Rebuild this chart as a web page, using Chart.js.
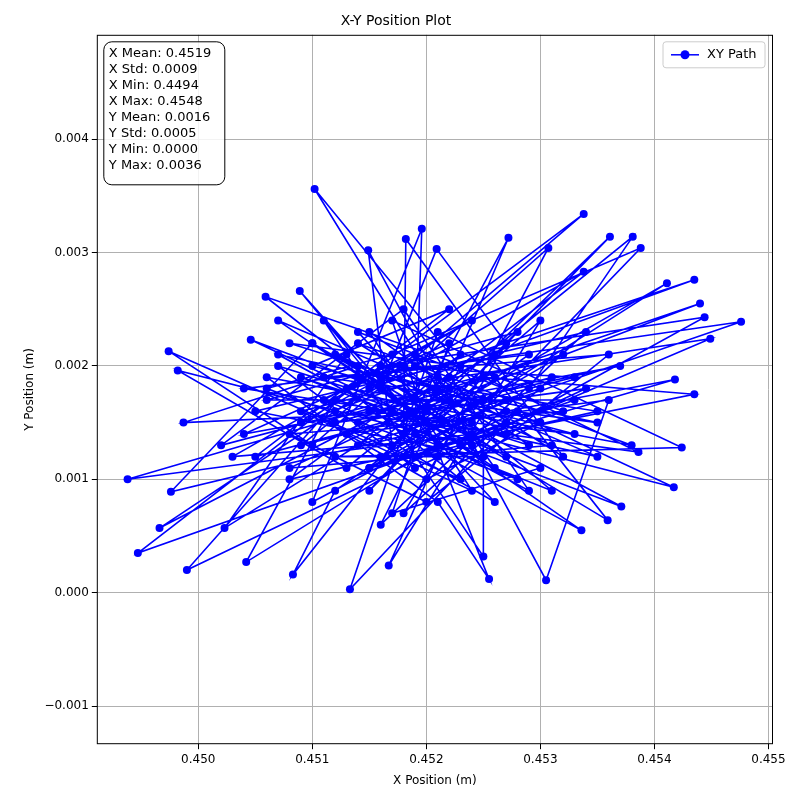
<!DOCTYPE html>
<html>
<head>
<meta charset="utf-8">
<script src="https://cdn.jsdelivr.net/npm/chart.js"></script>
<style>
  body { margin: 0; background: #fff; }
  #wrap { width: 800px; height: 800px; }
</style>
</head>
<body>
<div id="wrap"><canvas id="grafico" width="800" height="800"></canvas></div>
<script>
// 🔧 Datos de la trayectoria
const xValues = [
  0.4520,0.4512,0.4531,0.4508,0.4525,0.4515,0.4528,0.4506,0.4533,0.4519,
  0.4511,0.4526,0.4514,0.4537,0.4504,0.4522,0.4517,0.4530,0.4509,0.4524,
  0.44938,0.4521,0.45102,0.4527,0.44947,0.4516,0.45338,0.4510,0.44974,0.4523,
  0.4513,0.4535,0.4507,0.4529,0.4518,0.4502,0.4532,0.4515,0.4527,0.4510,
  0.45196,0.4519,0.45476,0.4514,0.44990,0.4528,0.45133,0.4521,0.45424,0.4512,
  0.4525,0.4505,0.4534,0.4516,0.4523,0.4508,0.4530,0.4520,0.4513,0.4536,
  0.45305,0.4522,0.45149,0.4517,0.45361,0.4526,0.44966,0.4515,0.45435,0.4509,
  0.4518,0.4531,0.4511,0.4524,0.4503,0.4527,0.4514,0.4538,0.4506,0.4521,
  0.45255,0.4520,0.45059,0.4529,0.45381,0.4513,0.44982,0.4524,0.45444,0.4516,
  0.4533,0.4509,0.4519,0.4526,0.4507,0.4535,0.4517,0.4504,0.4529,0.4512,
  0.45083,0.4522,0.45272,0.4518,0.45336,0.4510,0.44976,0.4527,0.45418,0.4515,
  0.4523,0.4514,0.4532,0.4508,0.4520,0.4536,0.4511,0.4525,0.4516,0.4530,
  0.45167,0.4521,0.45307,0.4519,0.45417,0.4512,0.45042,0.4524,0.45388,0.4517,
  0.4506,0.4528,0.4515,0.4533,0.4510,0.4522,0.4505,0.4531,0.4518,0.4527,
  0.45209,0.4516,0.45449,0.4523,0.45371,0.4514,0.44987,0.4520,0.45359,0.4526,
  0.4512,0.4534,0.4519,0.4507,0.4529,0.4515,0.4524,0.4509,0.4521,0.4532,
  0.45182,0.4518,0.45411,0.4525,0.45250,0.4513,0.45023,0.4522,0.45440,0.4519,
  0.4510,0.4527,0.4516,0.4535,0.4508,0.4523,0.4514,0.4530,0.4517,0.4520,
  0.45046,0.4516,0.45089,0.4521,0.45435,0.4525,0.45386,0.4512,0.45338,0.4519
];
const yValues = [
  0.0016,0.0021,0.0013,0.0011,0.0019,0.0009,0.0023,0.0017,0.0017,0.0012,
  0.0024,0.0008,0.0015,0.0020,0.0014,0.0022,0.0007,0.0011,0.0019,0.0014,
  0.0010,0.0018,0.00356,0.0015,0.00035,0.0020,0.00334,0.0013,0.00213,0.0010,
  0.0018,0.0015,0.0021,0.0009,0.0025,0.0013,0.0021,0.0011,0.0017,0.0008,
  0.00321,0.0014,0.00239,0.0019,0.00020,0.0016,0.00003,0.0023,0.00128,0.0012,
  0.0012,0.0016,0.0023,0.0006,0.0020,0.0022,0.0015,0.0010,0.0014,0.0017,
  0.00011,0.0017,0.00302,0.0013,0.00314,0.0021,0.00057,0.0018,0.00276,0.0015,
  0.0020,0.0009,0.0017,0.0024,0.0012,0.0014,0.0022,0.0013,0.0019,0.0008,
  0.00012,0.0015,0.00261,0.0018,0.00314,0.0011,0.00196,0.0013,0.00243,0.0020,
  0.0019,0.0013,0.0021,0.0011,0.0024,0.0012,0.0016,0.0018,0.0021,0.0009,
  0.00016,0.0019,0.00313,0.0014,0.00055,0.0022,0.00089,0.0016,0.00188,0.0011,
  0.0013,0.0023,0.0016,0.0014,0.0008,0.0021,0.0019,0.0017,0.0012,0.0024,
  0.00024,0.0012,0.00304,0.0020,0.00093,0.0017,0.00027,0.0015,0.00304,0.0021,
  0.0018,0.0010,0.0016,0.0014,0.0020,0.0025,0.0012,0.0019,0.0007,0.0022,
  0.00303,0.0018,0.00224,0.0013,0.00076,0.0020,0.00150,0.0016,0.00064,0.0019,
  0.0015,0.0018,0.0011,0.0020,0.0013,0.0023,0.0009,0.0016,0.0019,0.0012,
  0.00312,0.0014,0.00273,0.0017,0.00032,0.0021,0.00057,0.0018,0.00255,0.0016,
  0.0022,0.0012,0.0019,0.0016,0.0010,0.0021,0.0013,0.0018,0.0024,0.0015,
  0.00223,0.0018,0.00266,0.0013,0.00175,0.0019,0.00124,0.0016,0.00283,0.0017
];
const xTicks = [0.450, 0.451, 0.452, 0.453, 0.454, 0.455];
const yTicks = [-0.001, 0.000, 0.001, 0.002, 0.003, 0.004];
const statsLines = [
  'X Mean: 0.4519', 'X Std: 0.0009', 'X Min: 0.4494', 'X Max: 0.4548',
  'Y Mean: 0.0016', 'Y Std: 0.0005', 'Y Min: 0.0000', 'Y Max: 0.0036'
];

const puntos = xValues.map((x, i) => ({ x: x, y: yValues[i] }));
const fuente = 'DejaVu Sans';

function roundRect(ctx, x, y, w, h, r) {
  ctx.beginPath();
  ctx.moveTo(x + r, y);
  ctx.arcTo(x + w, y, x + w, y + h, r);
  ctx.arcTo(x + w, y + h, x, y + h, r);
  ctx.arcTo(x, y + h, x, y, r);
  ctx.arcTo(x, y, x + w, y, r);
  ctx.closePath();
}

// 👉 Caja de estadísticas, leyenda y borde
const extras = {
  id: 'extras',
  afterDraw(chart) {
    const { ctx, chartArea: a } = chart;
    ctx.save();
    ctx.strokeStyle = '#000';
    ctx.lineWidth = 1;
    ctx.strokeRect(a.left + 0.5, a.top + 0.5, a.right - a.left - 1, a.bottom - a.top - 1);

    ctx.font = '13px ' + fuente;
    ctx.textBaseline = 'middle';
    roundRect(ctx, a.left + 7, a.top + 7, 121, 143, 8);
    ctx.fillStyle = 'rgba(255,255,255,0.85)';
    ctx.fill();
    ctx.strokeStyle = '#000';
    ctx.stroke();
    ctx.fillStyle = '#000';
    statsLines.forEach((t, i) => ctx.fillText(t, a.left + 12, a.top + 19 + i * 16));

    const lx = a.right - 110, ly = a.top + 7;
    roundRect(ctx, lx, ly, 102, 26, 3);
    ctx.fillStyle = 'rgba(255,255,255,0.85)';
    ctx.fill();
    ctx.strokeStyle = '#ccc';
    ctx.stroke();
    ctx.strokeStyle = '#0000ff';
    ctx.lineWidth = 1.5;
    ctx.beginPath();
    ctx.moveTo(lx + 8, ly + 13);
    ctx.lineTo(lx + 36, ly + 13);
    ctx.stroke();
    ctx.fillStyle = '#0000ff';
    ctx.beginPath();
    ctx.arc(lx + 22, ly + 13, 4.5, 0, Math.PI * 2);
    ctx.fill();
    ctx.fillStyle = '#000';
    ctx.fillText('XY Path', lx + 44, ly + 13);
    ctx.restore();
  }
};

const fmt = (v, d) => (v < 0 ? '\u2212' : '') + Math.abs(v).toFixed(d);

new Chart(document.getElementById('grafico'), {
  type: 'line',
  data: {
    datasets: [{
      label: 'XY Path',
      data: puntos,
      borderColor: '#0000ff',
      backgroundColor: '#0000ff',
      borderWidth: 1.6,
      pointRadius: 4,
      pointHoverRadius: 4,
      pointBorderWidth: 0,
      tension: 0
    }]
  },
  options: {
    responsive: false,
    animation: false,
    layout: { padding: { top: 3, right: 27, left: 19, bottom: 8 } },
    plugins: {
      legend: { display: false },
      tooltip: { enabled: false },
      title: {
        display: true, text: 'X-Y Position Plot', color: '#000',
        font: { family: fuente, size: 14, weight: 'normal' },
        padding: { top: 10, bottom: 5 }
      }
    },
    scales: {
      x: {
        type: 'linear', min: 0.44911, max: 0.45504,
        afterBuildTicks: ax => { ax.ticks = xTicks.map(v => ({ value: v })); },
        ticks: { color: '#000', font: { family: fuente, size: 12 }, callback: v => fmt(v, 3), maxRotation: 0 },
        grid: { color: '#b0b0b0', tickColor: '#000', tickLength: 5 },
        border: { display: false },
        title: { display: true, text: 'X Position (m)', color: '#000', font: { family: fuente, size: 12 } }
      },
      y: {
        type: 'linear', min: -0.001336, max: 0.00492,
        afterBuildTicks: ax => { ax.ticks = yTicks.map(v => ({ value: v })); },
        ticks: { color: '#000', font: { family: fuente, size: 12 }, callback: v => fmt(v, 3) },
        grid: { color: '#b0b0b0', tickColor: '#000', tickLength: 5 },
        border: { display: false },
        title: { display: true, text: 'Y Position (m)', color: '#000', font: { family: fuente, size: 12 } }
      }
    }
  },
  plugins: [extras]
});
</script>
</body>
</html>
